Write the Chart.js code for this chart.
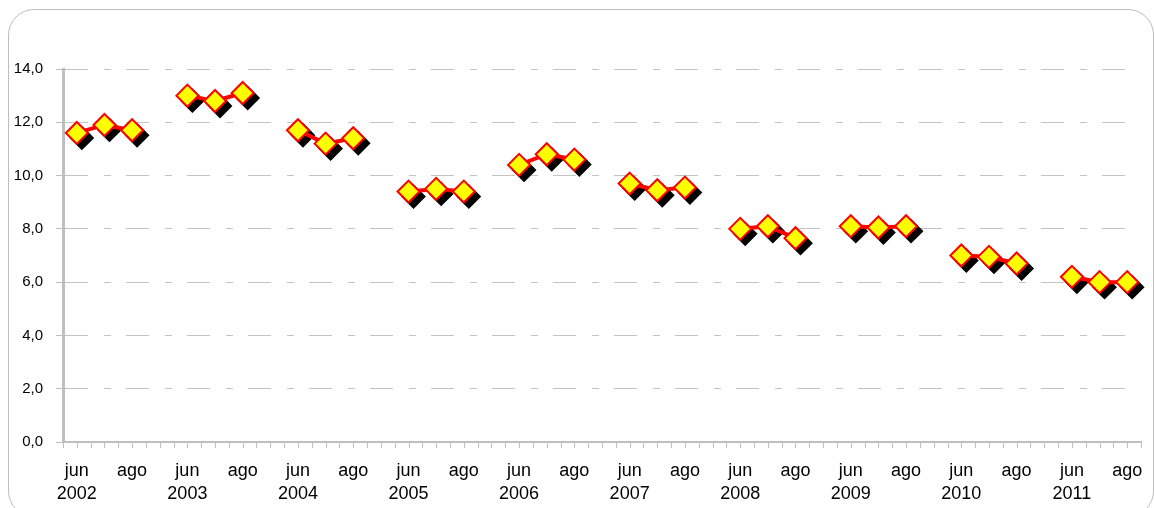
<!DOCTYPE html>
<html>
<head>
<meta charset="utf-8">
<script src="https://cdn.jsdelivr.net/npm/chart.js@4/dist/chart.umd.min.js"></script>
<style>
  html, body { margin: 0; padding: 0; background: #fff; overflow: hidden; }
  #wrap { position: relative; width: 1154px; height: 508px; }
  #frame {
    position: absolute; left: 8px; top: 9px; width: 1144px; height: 506px;
    border: 1px solid #bdbdbd; border-radius: 26px; pointer-events: none;
  }
  canvas { position: absolute; left: 0; top: 0; }
</style>
</head>
<body>
<div id="wrap">
  <canvas id="chart" width="1154" height="508"></canvas>
  <div id="frame"></div>
</div>
<script>
// années et mois affichés
const years = ["2002", "2003", "2004", "2005", "2006", "2007", "2008", "2009", "2010", "2011"];
const months = ["jun", "jul", "ago"];

// valeurs par mois (une par année)
const junValues = [11.6, 13.0, 11.7, 9.4, 10.4, 9.7, 8.0, 8.1, 7.0, 6.2];
const julValues = [11.9, 12.8, 11.2, 9.5, 10.8, 9.45, 8.1, 8.05, 6.95, 6.0];
const agoValues = [11.7, 13.1, 11.4, 9.4, 10.6, 9.55, 7.65, 8.1, 6.7, 6.0];

// graduations de l'axe Y
const yTicks = [0, 2, 4, 6, 8, 10, 12, 14];

// construction des catégories : 3 mois par an + un vide entre les années
const labels = [];
const values = [];
years.forEach(function (year, i) {
  const vals = [junValues[i], julValues[i], agoValues[i]];
  months.forEach(function (m, j) {
    labels.push(j === 0 ? [m, year] : (j === 2 ? m : ""));
    values.push(vals[j]);
  });
  if (i < years.length - 1) {
    labels.push("");
    values.push(null);
  }
});

// ombre des marqueurs
const shadowPlugin = {
  id: "shadow",
  beforeDatasetDraw(chart, args) {
    if (args.index === 1) {
      chart.ctx.save();
      chart.ctx.translate(5, 5);
    }
  },
  afterDatasetDraw(chart, args) {
    if (args.index === 1) chart.ctx.restore();
  },
};

// petites graduations sous l'axe X (centres et limites)
const xTickPlugin = {
  id: "xTicks",
  afterDraw(chart) {
    const x = chart.scales.x;
    const ctx = chart.ctx;
    const top = chart.chartArea.bottom;
    ctx.save();
    ctx.strokeStyle = "#bfbfbf";
    ctx.lineWidth = 1;
    ctx.beginPath();
    for (let i = -0.5; i <= labels.length - 0.5; i += 0.5) {
      const px = Math.round(x.getPixelForValue(i)) + 0.5;
      ctx.moveTo(px, top);
      ctx.lineTo(px, top + 6);
    }
    ctx.stroke();
    ctx.restore();
  },
};

const ctx = document.getElementById("chart").getContext("2d");
new Chart(ctx, {
  type: "line",
  data: {
    labels: labels,
    datasets: [
      {
        data: values,
        borderColor: "#ff0000",
        borderWidth: 4,
        pointStyle: "rectRot",
        pointRadius: 11,
        pointBorderWidth: 2,
        pointBackgroundColor: "#ffff00",
        pointBorderColor: "#ff0000",
        spanGaps: false,
        order: 1,
      },
      {
        data: values,
        showLine: false,
        pointStyle: "rectRot",
        pointRadius: 11,
        pointBorderWidth: 2,
        pointBackgroundColor: "#000000",
        pointBorderColor: "#000000",
        order: 2,
      },
    ],
  },
  options: {
    responsive: false,
    animation: false,
    layout: { padding: { top: 69, right: 12, bottom: 4, left: 0 } },
    plugins: { legend: { display: false }, tooltip: { enabled: false } },
    scales: {
      x: {
        offset: true,
        grid: { display: false, drawTicks: false },
        border: { display: true, color: "#bfbfbf", width: 2 },
        ticks: {
          autoSkip: false,
          maxRotation: 0,
          padding: 17,
          color: "#000",
          font: { family: "Liberation Sans, Arial, sans-serif", size: 18, lineHeight: 1.3 },
        },
        afterFit: function (s) {
          s.height = 62;
          s.paddingLeft = 0;
          s.paddingRight = 0;
        },
      },
      y: {
        min: 0,
        max: 14,
        afterBuildTicks: function (s) {
          s.ticks = yTicks.map(function (v) { return { value: v }; });
        },
        grid: {
          color: "#c4c4c4",
          lineWidth: 1,
          tickLength: 7,
          tickColor: "#bfbfbf",
          tickBorderDash: [],
        },
        border: { display: true, color: "#bfbfbf", width: 3, dash: [23, 16, 7, 15] },
        ticks: {
          padding: 13,
          color: "#000",
          font: { family: "Liberation Sans, Arial, sans-serif", size: 15 },
          callback: function (v) { return v.toFixed(1).replace(".", ","); },
        },
        afterFit: function (s) {
          s.width = 63;
          s.paddingTop = 0;
          s.paddingBottom = 0;
        },
      },
    },
  },
  plugins: [shadowPlugin, xTickPlugin],
});
</script>
</body>
</html>
